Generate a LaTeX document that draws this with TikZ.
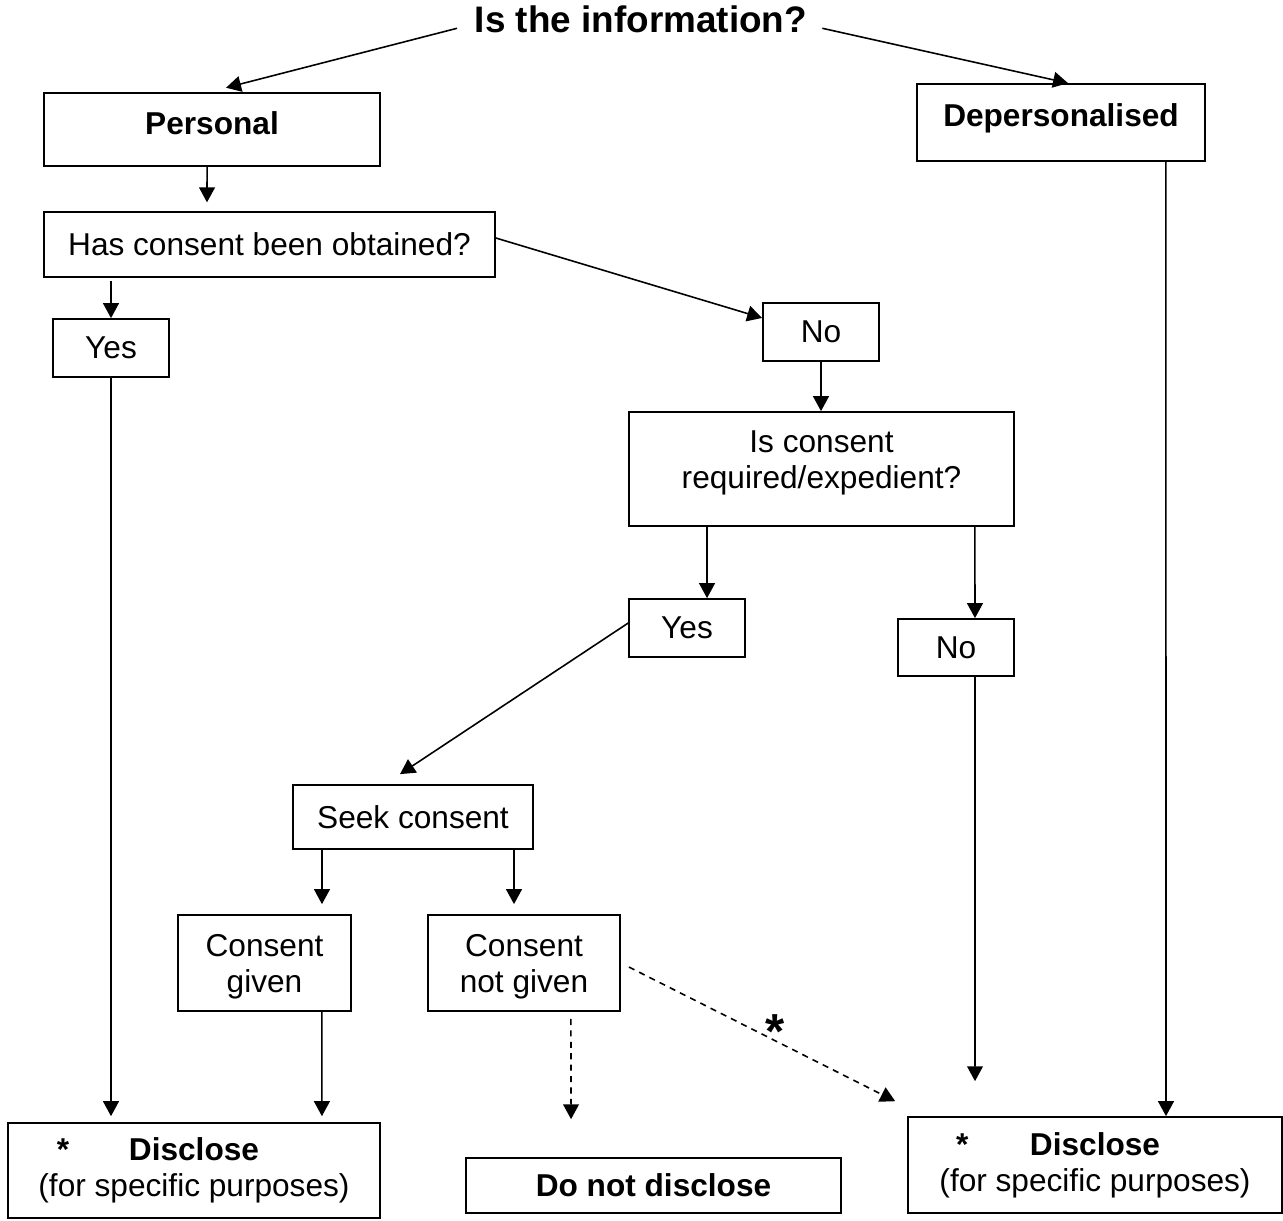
\documentclass[tikz,border=0pt]{standalone}
\usepackage{fontspec}
\setmainfont{Liberation Sans}
\usetikzlibrary{arrows.meta}
\newcommand{\shiftlines}[2]{\raisebox{#1}[\height][\depth]{\begin{tabular}{@{}c@{}}#2\end{tabular}}}

\begin{document}
\begin{tikzpicture}[
            x=0.02cm, y=-0.02cm,
            box/.style={draw, line width=1pt, align=center, inner sep=0pt, font=\fontsize{18}{20.5}\selectfont},
            bold box/.style={box, font=\fontsize{18}{20.5}\selectfont\bfseries},
            arr/.style={-{Triangle[length=8.5pt,width=9pt]}, line width=0.9pt},
            dash arr/.style={arr, dash pattern=on 3.5pt off 3pt},
            star label/.style={font=\fontsize{28}{30}\selectfont\bfseries, inner sep=0pt},
            ]

            \useasboundingbox (0,0) rectangle (1283,1220);

            \node[inner sep=0pt, font=\fontsize{21}{24}\selectfont\bfseries] (info) at (641,19.5) {Is the information?};
            \node[bold box, minimum width=6.72cm, minimum height=1.46cm, text depth=7pt] (personal) at (212,129.5) {Personal};
            \node[bold box, minimum width=5.76cm, minimum height=1.54cm, text depth=8.5pt] (depers) at (1061,122.5) {Depersonalised};
            \node[box, minimum width=9.02cm, minimum height=1.3cm] (obtained) at (269.5,244.5) {Has consent been obtained?};
            \node[box, minimum width=2.32cm, minimum height=1.16cm] (yesA) at (111,348) {Yes};
            \node[box, minimum width=2.32cm, minimum height=1.16cm] (noA) at (821,332) {No};
            \node[box, minimum width=7.7cm, minimum height=2.28cm] (required) at (821.5,469) {\shiftlines{3.2pt}{Is consent\\required/expedient?}};
            \node[box, minimum width=2.32cm, minimum height=1.16cm] (yesB) at (687,628) {Yes};
            \node[box, minimum width=2.32cm, minimum height=1.14cm] (noB) at (956,647.5) {No};
            \node[box, minimum width=4.8cm, minimum height=1.28cm] (seek) at (413,817) {Seek consent};
            \node[box, minimum width=3.46cm, minimum height=1.92cm] (given) at (264.5,963) {\shiftlines{-2.6pt}{Consent\\given}};
            \node[box, minimum width=3.84cm, minimum height=1.92cm] (notgiven) at (524,963) {\shiftlines{-2.6pt}{Consent\\not given}};
            \node[box, minimum width=7.44cm, minimum height=1.9cm] (discL) at (194,1170.5) {\llap{\textbf{*}\hspace{34pt}}\textbf{Disclose}\\(for specific purposes)};
            \node[bold box, minimum width=7.5cm, minimum height=1.1cm] (nodisc) at (653.5,1185.5) {Do not disclose};
            \node[box, minimum width=7.48cm, minimum height=1.92cm] (discR) at (1095,1165) {\llap{\textbf{*}\hspace{35pt}}\textbf{Disclose}\\(for specific purposes)};

            \draw[arr] ([xshift=-10pt,yshift=-5pt]info.west) -- ([xshift=8pt,yshift=2.5pt]personal.north);
            \draw[arr] ([xshift=8.5pt,yshift=-5pt]info.east) -- ([xshift=4pt]depers.north);
            \draw[arr, shorten >=5pt] ([xshift=-2.8pt]personal.south) -- ([xshift=-35.6pt]obtained.north);
            \draw[arr, shorten <=1.7pt] (yesA.north |- obtained.south) -- (yesA.north);
            \draw[arr] ([yshift=3.7pt]obtained.east) -- ([yshift=8pt]noA.west);
            \draw[arr, shorten >=3.4pt] (yesA.south) -- (yesA.south |- discL.north);
            \draw[arr] (noA.south) -- (noA.south |- required.north);
            \draw[arr] ([xshift=-65.2pt]required.south) -- ([xshift=11.4pt]yesB.north);
            \draw[arr] ([xshift=87.3pt]required.south) -- ([xshift=10.8pt]noB.north);
            \draw[arr] ([yshift=2.8pt]yesB.west) -- ([xshift=-7.4pt,yshift=5.7pt]seek.north);
            \draw[arr, shorten >=5.7pt] ([xshift=-51.8pt]seek.south) -- ([xshift=32.7pt]given.north);
            \draw[arr, shorten >=5.7pt] ([xshift=57.5pt]seek.south) -- ([xshift=-5.7pt]notgiven.north);
            \draw[arr, shorten >=3.4pt] ([xshift=32.7pt]given.south) -- ([xshift=72.8pt]discL.north);
            \draw[dash arr, shorten <=4pt, shorten >=21.6pt] ([xshift=26.7pt]notgiven.south) -- ([xshift=-46.9pt]nodisc.north);
            \draw[dash arr] ([xshift=4.6pt,yshift=-2.3pt]notgiven.east) -- node[star label, pos=.55, anchor=base, yshift=-4.5pt] (ast) {*} ([xshift=-6.8pt,yshift=8.5pt]discR.north west);
            \draw[arr, shorten >=19.9pt] ([xshift=10.8pt]noB.south) -- ([xshift=-68.3pt]discR.north);
            \draw[arr] ([xshift=59.7pt]depers.south) -- ([xshift=40.4pt]discR.north);
        \end{tikzpicture}
\end{document}
